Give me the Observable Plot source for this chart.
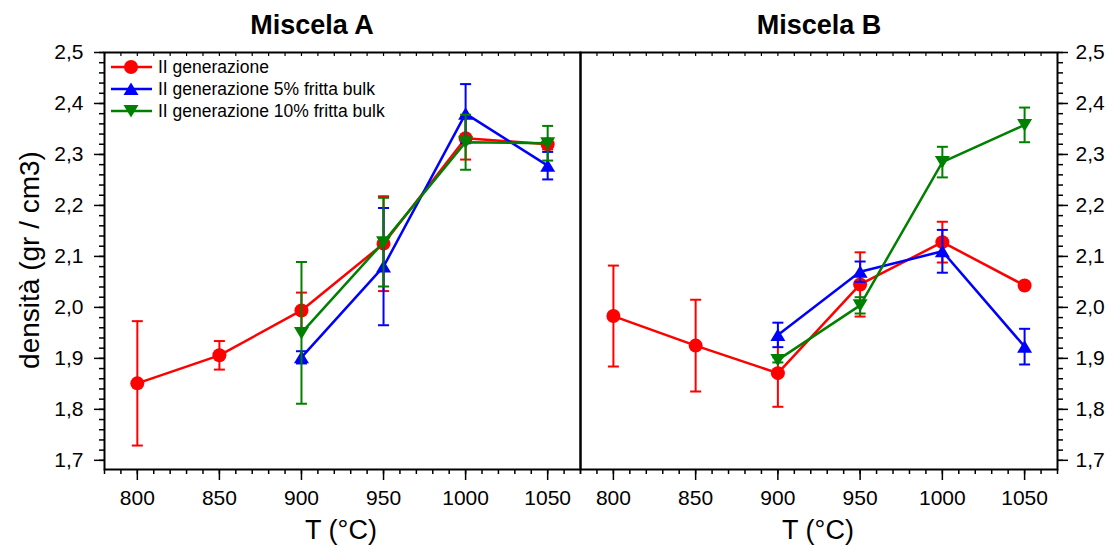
<!DOCTYPE html>
<html><head><meta charset="utf-8">
<script src="https://cdn.jsdelivr.net/npm/d3@7"></script>
<script src="https://cdn.jsdelivr.net/npm/@observablehq/plot@0.6"></script>
<style>
body{margin:0;background:#fff;font-family:"Liberation Sans",Arial,sans-serif;}
#chart{position:relative;width:1113px;height:548px;overflow:hidden;background:#fff}
#chart svg.p{position:absolute;left:0;top:0}
.t{position:absolute;white-space:nowrap;color:#000;line-height:1}
.leg{position:absolute;left:111px;top:56px;font-size:17.5px}
.leg .row{display:flex;align-items:center;height:22px}
.leg svg{margin-right:6px}
</style></head><body><div id="chart"></div>
<script>
// ---- data ----
const temps = [800, 850, 900, 950, 1000, 1050];
const tempsFr = [900, 950, 1000, 1050];
const seriesNames = ["II generazione", "II generazione 5% fritta bulk", "II generazione 10% fritta bulk"];
const seriesColors = ["#ff0000", "#0000ff", "#008000"];
const panelTitles = ["Miscela A", "Miscela B"];
const yMajor = [1.7, 1.8, 1.9, 2.0, 2.1, 2.2, 2.3, 2.4, 2.5];
// Miscela A
const aGen = [1.851, 1.906, 1.994, 2.125, 2.332, 2.320];
const aGenErr = [0.122, 0.028, 0.035, 0.093, 0.042, 0.010];
const aFr5 = [1.902, 2.080, 2.380, 2.278];
const aFr5Err = [0.012, 0.115, 0.058, 0.027];
const aFr10 = [1.950, 2.128, 2.324, 2.322];
const aFr10Err = [0.139, 0.087, 0.054, 0.034];
// Miscela B
const bGen = [1.983, 1.925, 1.871, 2.045, 2.128, 2.043];
const bGenErr = [0.099, 0.090, 0.066, 0.063, 0.040, 0.004];
const bFr5 = [1.946, 2.070, 2.110, 1.923];
const bFr5Err = [0.024, 0.020, 0.042, 0.035];
const bFr10 = [1.897, 2.004, 2.285, 2.358];
const bFr10Err = [0.005, 0.016, 0.030, 0.034];

// ---- helpers ----
const xMinor = d3.range(780, 1071, 10);
const yMinor = d3.range(85, 126, 1).map(k => +(k * 0.02).toFixed(2));
const fmt = d => d.toFixed(1).replace(".", ",");
const rowsOf = (T, v, e) => T.map((t, i) => ({T: t, v: v[i], e: e[i]}));
const capSym = {draw(ctx, size) { const r = Math.sqrt(size / Math.PI); ctx.moveTo(-r, 0); ctx.lineTo(r, 0); }};
const triUp = {draw(ctx) { ctx.moveTo(0, -6.5); ctx.lineTo(7.5, 6); ctx.lineTo(-7.5, 6); ctx.closePath(); }};
const triDown = {draw(ctx) { ctx.moveTo(0, 6.5); ctx.lineTo(7.5, -6); ctx.lineTo(-7.5, -6); ctx.closePath(); }};
const symbols = ["circle", triUp, triDown];

function seriesMarks(rows, k) {
  const c = seriesColors[k];
  return [
    Plot.ruleX(rows, {x: "T", y1: d => d.v - d.e, y2: d => d.v + d.e, stroke: c, strokeWidth: 2}),
    Plot.dot(rows, {x: "T", y: d => d.v + d.e, symbol: capSym, r: 5.5, stroke: c, strokeWidth: 2, fill: "none"}),
    Plot.dot(rows, {x: "T", y: d => d.v - d.e, symbol: capSym, r: 5.5, stroke: c, strokeWidth: 2, fill: "none"}),
    Plot.line(rows, {x: "T", y: "v", stroke: c, strokeWidth: 2.5}),
    Plot.dot(rows, {x: "T", y: "v", symbol: symbols[k], r: 7, fill: c, stroke: "none"})
  ];
}

function panel(series, side) {
  const left = side === "left";
  const svg = Plot.plot({
    width: 1113, height: 548,
    marginLeft: left ? 104 : 580,
    marginRight: left ? 1113 - 580 : 1113 - 1057,
    marginTop: 52, marginBottom: 79,
    style: {background: "transparent", fontFamily: "'Liberation Sans', Arial, sans-serif", color: "#000", overflow: "visible"},
    x: {domain: [780, 1070]},
    y: {domain: [1.682, 2.5]},
    marks: [
      Plot.axisX({anchor: "bottom", ticks: xMinor, tickSize: 5, text: null, label: null, strokeWidth: 1.5}),
      Plot.axisX({anchor: "bottom", ticks: temps, tickSize: 11, tickPadding: 10, tickFormat: d => String(d), fontSize: 21, label: null, strokeWidth: 1.5}),
      Plot.axisX({anchor: "top", ticks: xMinor, tickSize: 3, dy: 3, text: null, label: null, strokeWidth: 1.2}),
      Plot.axisY({anchor: side, ticks: yMinor, tickSize: 5, text: null, label: null, strokeWidth: 1.5}),
      Plot.axisY({anchor: side, ticks: yMajor, tickSize: 10, tickPadding: left ? 11 : 8, tickFormat: fmt, fontSize: 21, label: null, strokeWidth: 1.5}),
      Plot.frame({stroke: "#000", strokeWidth: 2}),
      ...series.flatMap((rows, k) => seriesMarks(rows, k))
    ]
  });
  svg.classList.add("p");
  return svg;
}

const chart = document.getElementById("chart");
chart.append(panel([rowsOf(temps, aGen, aGenErr), rowsOf(tempsFr, aFr5, aFr5Err), rowsOf(tempsFr, aFr10, aFr10Err)], "left"));
chart.append(panel([rowsOf(temps, bGen, bGenErr), rowsOf(tempsFr, bFr5, bFr5Err), rowsOf(tempsFr, bFr10, bFr10Err)], "right"));

function addText(txt, css) {
  const d = document.createElement("div");
  d.className = "t";
  d.textContent = txt;
  Object.assign(d.style, css);
  chart.append(d);
}
addText(panelTitles[0], {left: "312px", top: "12px", transform: "translateX(-50%)", fontSize: "27px", fontWeight: "bold"});
addText(panelTitles[1], {left: "819px", top: "12px", transform: "translateX(-50%)", fontSize: "27px", fontWeight: "bold"});
addText("T (°C)", {left: "341px", top: "517px", transform: "translateX(-50%)", fontSize: "27px"});
addText("T (°C)", {left: "818px", top: "517px", transform: "translateX(-50%)", fontSize: "27px"});
addText("densità (gr / cm3)", {left: "30px", top: "260px", transform: "translate(-50%,-50%) rotate(-90deg)", fontSize: "28px"});

// legend
const leg = document.createElement("div");
leg.className = "leg";
const symPaths = [
  `<circle cx="20" cy="8" r="7" fill="C"/>`,
  `<path d="M20,1.5L27.5,14L12.5,14Z" fill="C"/>`,
  `<path d="M20,14.5L27.5,2L12.5,2Z" fill="C"/>`
];
seriesNames.forEach((name, k) => {
  const row = document.createElement("div");
  row.className = "row";
  row.innerHTML = `<svg width="41" height="16"><line x1="0" x2="41" y1="8" y2="8" stroke="${seriesColors[k]}" stroke-width="2.5"/>${symPaths[k].replace("C", seriesColors[k])}</svg><span>${name}</span>`;
  leg.append(row);
});
chart.append(leg);
</script></body></html>
